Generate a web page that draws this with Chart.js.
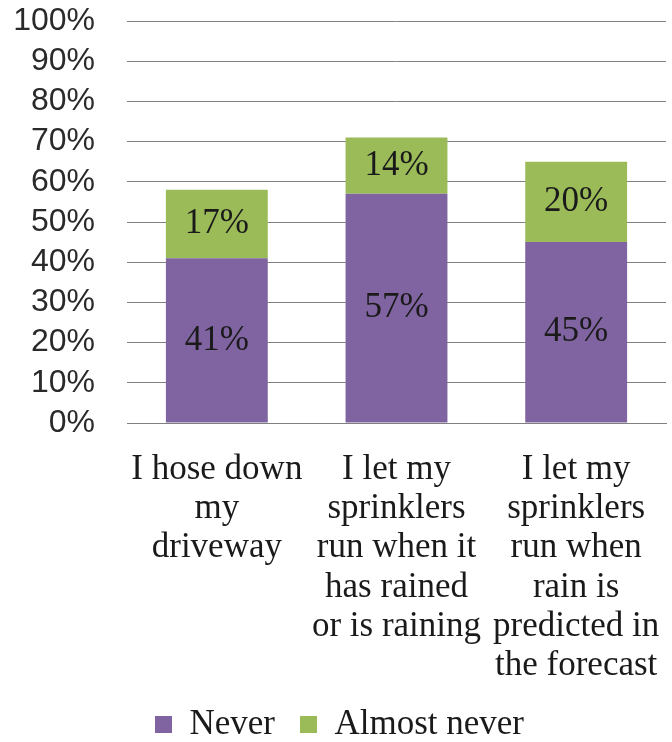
<!DOCTYPE html>
<html>
<head>
<meta charset="utf-8">
<script src="https://cdn.jsdelivr.net/npm/chart.js@4/dist/chart.umd.min.js"></script>
<style>
  html, body { margin: 0; padding: 0; background: #fff; }
  canvas { display: block; }
</style>
</head>
<body>
<canvas id="grafico" width="672" height="742"></canvas>
<script>
// categorias (uma linha por elemento)
var categorias = [
    ['I hose down', 'my', 'driveway'],
    ['I let my', 'sprinklers', 'run when it', 'has rained', 'or is raining'],
    ['I let my', 'sprinklers', 'run when', 'rain is', 'predicted in', 'the forecast']
];
var nunca = [41, 57, 45];
var quaseNunca = [17, 14, 20];
var ticksY = [0, 10, 20, 30, 40, 50, 60, 70, 80, 90, 100];

var serif = '"Liberation Serif", "DejaVu Serif", serif';
var sans = '"Liberation Sans", Arial, sans-serif';

// escreve o valor no meio de cada segmento
var rotulos = {
    id: 'rotulos',
    afterInit: function (chart) {
        // legenda mais baixa que o padrao
        var fitOriginal = chart.legend.fit;
        chart.legend.fit = function () {
            fitOriginal.call(this);
            this.height = 60;
        };
    },
    afterDatasetsDraw: function (chart) {
        var ctx = chart.ctx;
        ctx.save();
        ctx.font = '35px ' + serif;
        ctx.fillStyle = '#1a1a1a';
        ctx.textAlign = 'center';
        ctx.textBaseline = 'middle';
        chart.data.datasets.forEach(function (ds, i) {
            var meta = chart.getDatasetMeta(i);
            meta.data.forEach(function (bar, j) {
                var p = bar.getCenterPoint();
                ctx.fillText(ds.data[j] + '%', p.x, p.y);
            });
        });
        ctx.restore();
    }
};

var ctx = document.getElementById('grafico').getContext('2d');
var grafico = new Chart(ctx, {
    type: 'bar',
    data: {
        labels: categorias,
        datasets: [{
            label: 'Never',
            data: nunca,
            backgroundColor: '#8064A2',
            barPercentage: 0.567,
            categoryPercentage: 1
        }, {
            label: 'Almost never',
            data: quaseNunca,
            backgroundColor: '#9BBB59',
            barPercentage: 0.567,
            categoryPercentage: 1
        }]
    },
    options: {
        responsive: false,
        animation: false,
        layout: { padding: { left: 13, right: 6, top: 0, bottom: 0 } },
        plugins: {
            tooltip: { enabled: false },
            legend: {
                position: 'bottom',
                labels: {
                    boxWidth: 17,
                    boxHeight: 17,
                    padding: 25,
                    color: '#1a1a1a',
                    font: { family: serif, size: 35 }
                }
            }
        },
        scales: {
            x: {
                stacked: true,
                grid: { display: false, drawTicks: false },
                border: { display: true, color: '#808080', width: 1 },
                afterFit: function (axis) {
                    axis.paddingLeft = 0;
                    axis.paddingRight = 0;
                    axis.height = 259;
                },
                ticks: {
                    padding: 27,
                    maxRotation: 0,
                    autoSkip: false,
                    color: '#1a1a1a',
                    font: { family: serif, size: 35, lineHeight: 1.123 }
                }
            },
            y: {
                stacked: true,
                min: 0,
                max: 100,
                afterBuildTicks: function (axis) {
                    axis.ticks = ticksY.map(function (v) { return { value: v }; });
                },
                afterFit: function (axis) {
                    axis.paddingTop = 21;
                    axis.paddingBottom = 0;
                    axis.width = 114;
                },
                grid: { color: '#808080', lineWidth: 1, drawTicks: false },
                border: { display: false },
                ticks: {
                    padding: 32,
                    autoSkip: false,
                    color: '#2a2a2a',
                    font: { family: sans, size: 32 },
                    callback: function (v) { return v + '%'; }
                }
            }
        }
    },
    plugins: [rotulos]
});
</script>
</body>
</html>
